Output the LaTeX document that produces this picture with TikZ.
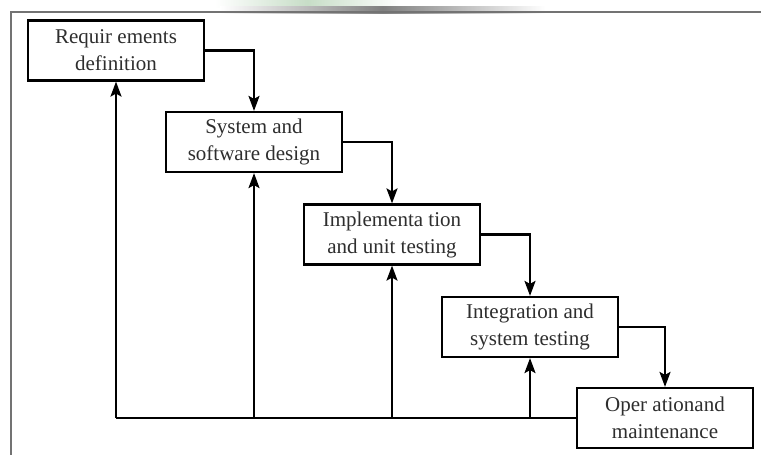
\documentclass[tikz,border=0pt]{standalone}
\usepackage{fontspec}
\setmainfont{Liberation Serif}
\usetikzlibrary{arrows.meta}

\tikzset{
  stage/.style={draw=black, line width=2.2pt, fill=white, minimum width=176pt,
    minimum height=60pt, align=center, inner sep=2pt,
    font=\fontsize{21pt}{27pt}\selectfont, text=black!82},
  flow/.style={line width=2.2pt, -{Stealth[length=15pt,width=11pt,inset=3pt]}},
  plain/.style={line width=2.2pt},
  frame/.style={draw=black!55, line width=1.3pt}
}

\begin{document}
\begin{tikzpicture}[x=1pt,y=-1pt]
  \useasboundingbox (0,0) rectangle (761,455);
  \fill[white] (0,0) rectangle (761,455);

  % soft header band above the frame
  \shade[left color=white, right color=white, middle color=green!40!black!22]
    (215,0) rectangle (400,7);
  \shade[left color=white, right color=white, middle color=black!50]
    (220,6) rectangle (545,13);

  % outer frame
  \draw[frame] (11,455) -- (11,12) -- (761,12);

  % stages
  \node[stage] (req)  at (116,50.5) {Requir ements\\definition};
  \node[stage] (des)  at (254,142)  {System and\\software design};
  \node[stage] (impl) at (392,234.5){Implementa tion\\and unit testing};
  \node[stage] (intg) at (530,327)  {Integration and\\system testing};
  \node[stage] (ops)  at (665,418)  {Oper ationand\\maintenance};

  % forward flow
  \draw[flow] (req.east)  -| (des.north);
  \draw[flow] (des.east)  -| (impl.north);
  \draw[flow] (impl.east) -| (intg.north);
  \draw[flow] (intg.east) -| (ops.north);

  % feedback to earlier stages
  \coordinate (fb) at (req.south |- ops.west);
  \draw[plain] (ops.west) -- (fb);
  \draw[flow] (fb) -- (req.south);
  \draw[flow] (des.south  |- ops.west) -- (des.south);
  \draw[flow] (impl.south |- ops.west) -- (impl.south);
  \draw[flow] (intg.south |- ops.west) -- (intg.south);
\end{tikzpicture}
\end{document}
